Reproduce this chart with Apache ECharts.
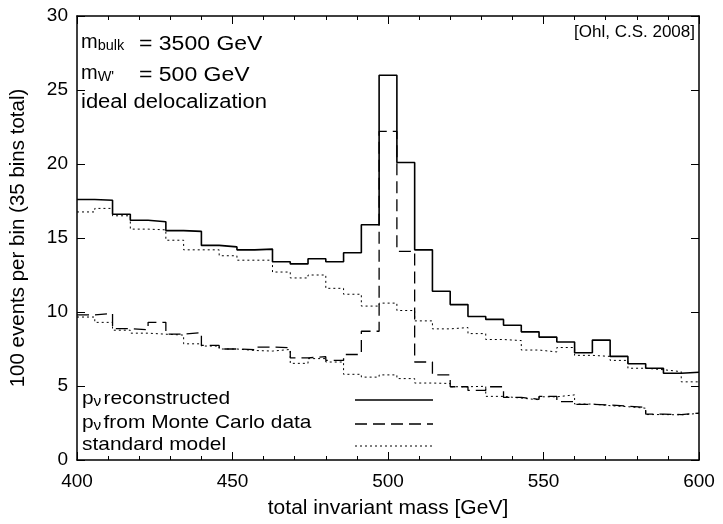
<!DOCTYPE html>
<html>
<head>
<meta charset="utf-8">
<script src="https://cdn.jsdelivr.net/npm/echarts@6/dist/echarts.min.js"></script>
<style>
html, body { margin: 0; padding: 0; background: #fff; }
#chart { width: 723px; height: 524px; }
</style>
</head>
<body>
<div id="chart"></div>
<script>
// histogram range, 35 bins
const xMin = 400
const xMax = 600
const xTicks = [400, 450, 500, 550, 600]
const yTicks = [0, 5, 10, 15, 20, 25, 30]

// p_nu reconstructed (with W')
const recoValues = [17.6, 17.55, 16.6, 16.2, 16.1, 15.5, 15.45, 14.5, 14.4, 14.2,
    14.25, 13.4, 13.25, 13.6, 13.4, 14.0, 15.9, 26.0, 20.1, 14.2,
    11.4, 10.5, 9.7, 9.5, 9.1, 8.66, 8.3, 7.97, 7.25, 8.1,
    7.0, 6.5, 6.2, 5.86, 5.93]
// standard model, reconstructed
const smRecoValues = [16.76, 17.0, 16.5, 15.6, 15.55, 14.85, 14.2, 14.2, 13.8, 13.5,
    13.5, 12.7, 12.3, 12.5, 11.6, 11.2, 10.4, 10.6, 10.1, 9.4,
    8.86, 8.95, 8.54, 8.14, 8.07, 7.43, 7.3, 7.6, 7.07, 7.0,
    6.73, 6.2, 6.1, 5.97, 5.28]
// p_nu from Monte Carlo data (with W')
const mcValues = [9.8, 9.9, 8.88, 8.8, 9.3, 8.5, 8.6, 7.74, 7.5, 7.45,
    7.63, 7.58, 6.9, 6.98, 6.73, 7.13, 8.7, 22.2, 14.1, 6.62,
    5.75, 4.95, 4.7, 4.95, 4.23, 4.1, 4.3, 3.94, 3.76, 3.71,
    3.64, 3.56, 3.1, 3.07, 3.17]
// standard model, Monte Carlo
const smMcValues = [9.66, 9.3, 8.77, 8.57, 8.5, 8.44, 7.85, 7.7, 7.5, 7.4,
    7.36, 7.47, 6.53, 6.85, 6.62, 5.79, 5.6, 5.75, 5.5, 5.2,
    5.17, 4.95, 4.98, 4.3, 4.18, 4.07, 4.27, 4.4, 3.78, 3.67,
    3.6, 3.5, 3.07, 3.05, 3.15]

const FONT = 'Liberation Sans, Arial, Helvetica, sans-serif'
const SOLID = { width: 1.6, type: 'solid' }
const DASHED = { width: 1.3, type: [12, 6] }
const DOTTED = { width: 1, type: [2, 3] }

// bin values -> points at left bin edges (+ closing point at xMax)
function toSteps (vals) {
    const w = (xMax - xMin) / vals.length
    const pts = vals.map((v, i) => [xMin + i * w, v])
    pts.push([xMax, vals[vals.length - 1]])
    return pts
}

function histSeries (name, vals, lineStyle) {
    return {
        name,
        type: 'line',
        step: 'end',
        symbol: 'none',
        data: toSteps(vals),
        lineStyle: Object.assign({ color: '#000' }, lineStyle),
        itemStyle: { color: '#000' }
    }
}

const axisCommon = {
    type: 'value',
    axisLine: { show: true, onZero: false, lineStyle: { color: '#000', width: 1.5 } },
    splitLine: { show: false },
    axisTick: { show: true, inside: true, length: 8, lineStyle: { color: '#000', width: 1 } }
}

const sub = { fontFamily: FONT, fill: '#000', verticalAlign: 'bottom' }

// legend: text on the left, line sample on the right
function legendRow (label, y, lineStyle) {
    return [
        {
            type: 'text', left: 82, top: y - 11, scaleX: 1.1,
            style: {
                text: label, fontFamily: FONT, fontSize: 19, fill: '#000',
                rich: {
                    p: { fontSize: 19, fontFamily: FONT, fill: '#000' },
                    nu: Object.assign({ fontSize: 14, padding: [7, 2, 0, 0] }, sub)
                }
            }
        },
        {
            type: 'line',
            shape: { x1: 355, y1: y, x2: 433, y2: y },
            style: {
                stroke: '#000', lineWidth: lineStyle.width,
                lineDash: Array.isArray(lineStyle.type) ? lineStyle.type : null
            }
        }
    ]
}

// m with subscript, e.g. m_bulk
function massLabel (subText, top) {
    return {
        type: 'text', left: 81, top,
        style: {
            text: '{m|m}{s|' + subText + '}', fontFamily: FONT,
            rich: {
                m: { fontSize: 20, fontFamily: FONT, fill: '#000' },
                s: Object.assign({ fontSize: 14.5, padding: [8, 0, 0, 0] }, sub)
            }
        }
    }
}

const chart = echarts.init(document.getElementById('chart'))
chart.setOption({
    animation: false,
    backgroundColor: '#fff',
    grid: { left: 76, right: 24, top: 16, bottom: 61 },
    xAxis: [
        Object.assign({}, axisCommon, {
            min: xTicks[0], max: xTicks[xTicks.length - 1], interval: 50,
            position: 'bottom',
            minorTick: { show: true, splitNumber: 5, length: 4, lineStyle: { color: '#000' } },
            axisLabel: { color: '#000', fontSize: 19, fontFamily: FONT, margin: 12 },
            name: 'total invariant mass [GeV]',
            nameLocation: 'middle',
            nameGap: 38,
            nameTextStyle: { color: '#000', fontSize: 21, fontFamily: FONT }
        }),
        Object.assign({}, axisCommon, {
            min: xTicks[0], max: xTicks[xTicks.length - 1], interval: 50,
            position: 'top',
            minorTick: { show: true, splitNumber: 5, length: 4, lineStyle: { color: '#000' } },
            axisLabel: { show: false }
        })
    ],
    yAxis: [
        Object.assign({}, axisCommon, {
            min: yTicks[0], max: yTicks[yTicks.length - 1], interval: 5,
            position: 'left',
            axisLabel: { color: '#000', fontSize: 19, fontFamily: FONT, margin: 9 },
            name: '100 events per bin (35 bins total)',
            nameLocation: 'middle',
            nameGap: 48,
            nameTextStyle: { color: '#000', fontSize: 20.5, fontFamily: FONT }
        }),
        Object.assign({}, axisCommon, {
            min: yTicks[0], max: yTicks[yTicks.length - 1], interval: 5,
            position: 'right',
            axisLabel: { show: false }
        })
    ],
    graphic: [
        massLabel('bulk', 32),
        { type: 'text', left: 139, top: 34, scaleX: 1.15, style: { text: '= 3500 GeV', font: '20px ' + FONT, fill: '#000' } },
        massLabel('W\'', 63),
        { type: 'text', left: 139, top: 65, scaleX: 1.15, style: { text: '= 500 GeV', font: '20px ' + FONT, fill: '#000' } },
        { type: 'text', left: 81, top: 92, scaleX: 1.1, style: { text: 'ideal delocalization', font: '20px ' + FONT, fill: '#000' } },
        { type: 'text', right: 28, top: 24, style: { text: '[Ohl, C.S. 2008]', font: '17px ' + FONT, fill: '#000' } },
        ...legendRow('{p|p}{nu|ν}reconstructed', 400, SOLID),
        ...legendRow('{p|p}{nu|ν}from Monte Carlo data', 424, DASHED),
        ...legendRow('standard model', 446, DOTTED)
    ],
    series: [
        histSeries('pν reconstructed', recoValues, SOLID),
        histSeries('pν from Monte Carlo data', mcValues, DASHED),
        histSeries('standard model', smRecoValues, DOTTED),
        histSeries('standard model', smMcValues, DOTTED)
    ]
})
</script>
</body>
</html>
